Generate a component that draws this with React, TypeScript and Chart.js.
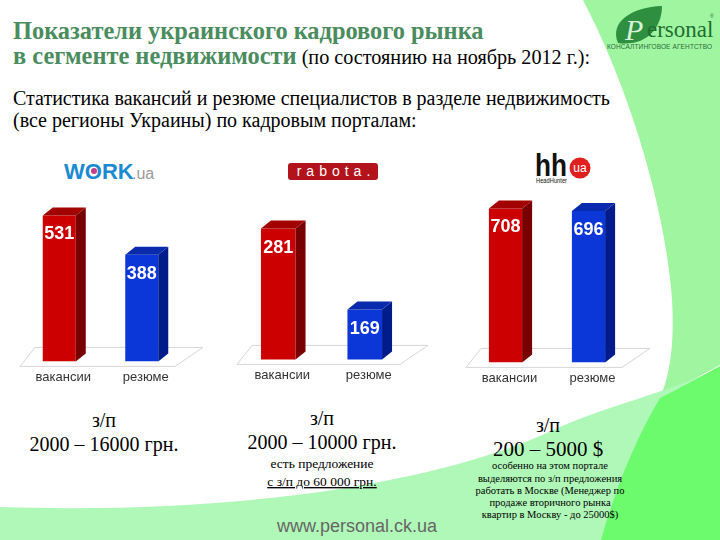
import React, { useEffect, useRef } from 'react';
import { Chart, registerables } from 'chart.js';

Chart.register(...registerables);

// ---- data ----
const categories = ['вакансии', 'резюме'];
const workUaValues = [531, 388];
const rabotaUaValues = [281, 169];
const hhUaValues = [708, 696];

// ---- styles ----
const frontColors = ['#cc0000', '#0c37d8'];
const topColors = ['#a30000', '#0a2aad'];
const sideColors = ['#780000', '#001c8a'];
const SERIF = "'Liberation Serif', 'Times New Roman', serif";
const SANS = "'Liberation Sans', Arial, sans-serif";
const DX = 10;
const DY = 8;

const bar3dPlugin = {
  id: 'bar3d',
  beforeDatasetsDraw(chart: any) {
    const { ctx, chartArea } = chart;
    const L = chartArea.left;
    const R = chartArea.right;
    const b = chartArea.bottom;
    ctx.save();
    ctx.strokeStyle = '#d6d6d6';
    ctx.lineWidth = 1;
    ctx.beginPath();
    ctx.moveTo(L + 2, b + 5);
    ctx.lineTo(R - 8, b + 5);
    ctx.lineTo(R + 20, b - 14);
    ctx.lineTo(L + 17, b - 14);
    ctx.closePath();
    ctx.stroke();
    ctx.restore();
  },
  afterDatasetsDraw(chart: any) {
    const { ctx, chartArea } = chart;
    const meta = chart.getDatasetMeta(0);
    const data = chart.data.datasets[0].data;
    meta.data.forEach((bar: any, i: number) => {
      const props = bar.getProps(['x', 'y', 'base', 'width'], true);
      const x = props.x;
      const y = props.y;
      const width = props.width;
      const base = Math.min(props.base, chartArea.bottom);
      const l = x - width / 2;
      const r = x + width / 2;
      ctx.save();
      ctx.fillStyle = sideColors[i];
      ctx.beginPath();
      ctx.moveTo(r, y);
      ctx.lineTo(r + DX, y - DY);
      ctx.lineTo(r + DX, base - DY);
      ctx.lineTo(r, base);
      ctx.closePath();
      ctx.fill();
      ctx.fillStyle = topColors[i];
      ctx.beginPath();
      ctx.moveTo(l, y);
      ctx.lineTo(l + DX, y - DY);
      ctx.lineTo(r + DX, y - DY);
      ctx.lineTo(r, y);
      ctx.closePath();
      ctx.fill();
      ctx.fillStyle = '#ffffff';
      ctx.font = 'bold 18px ' + SANS;
      ctx.textAlign = 'center';
      ctx.textBaseline = 'middle';
      ctx.fillText(String(data[i]), x, y + 19);
      ctx.restore();
    });
  },
};

const CANVAS_H = 223;

function Bar3DChart(props: { values: number[]; yMin: number; yMax: number; left: number; top: number; width: number }) {
  const { values, yMin, yMax, left, top, width } = props;
  const ref = useRef<HTMLCanvasElement>(null);
  useEffect(() => {
    const chart = new Chart(ref.current as HTMLCanvasElement, {
      type: 'bar',
      data: {
        labels: categories,
        datasets: [
          {
            data: values,
            backgroundColor: frontColors,
            borderWidth: 0,
            barPercentage: 0.4,
            categoryPercentage: 1,
          },
        ],
      },
      options: {
        responsive: false,
        maintainAspectRatio: false,
        animation: false,
        devicePixelRatio: 1,
        layout: { padding: { left: 10, right: 24, top: 10, bottom: 0 } },
        plugins: { legend: { display: false }, tooltip: { enabled: false } },
        scales: {
          x: {
            grid: { display: false, drawTicks: false },
            border: { display: false },
            ticks: {
              font: { family: SANS, size: 13 },
              color: '#333333',
              padding: 8,
              labelOffset: 4,
            },
          },
          y: { display: false, min: yMin, max: yMax },
        },
      } as any,
      plugins: [bar3dPlugin],
    });
    return () => chart.destroy();
  }, []);
  return (
    <canvas
      ref={ref}
      width={width}
      height={CANVAS_H}
      style={{ position: 'absolute', left, top, width, height: CANVAS_H }}
    />
  );
}

const serifStyle = { fontFamily: SERIF };
const sansStyle = { fontFamily: SANS };

export default function App() {
  return (
    <div
      style={{
        position: 'fixed',
        left: 0,
        top: 0,
        width: 720,
        height: 540,
        overflow: 'hidden',
        background: '#ffffff',
      }}
    >
      <svg width={720} height={540} style={{ position: 'absolute', left: 0, top: 0, fontFamily: SERIF }}>
        {/* background shapes */}
        <path d="M583,0 C625,80 665,200 672,300 C675,350 668,380 660,398 L720,365 L720,0 Z" fill="#a0f5a0" />
        <path d="M0,507 C250,515 450,480 560,427 C610,405 660,395 720,368 L720,540 L0,540 Z" fill="#b0f8b8" />
        <path d="M660,398 C690,383 705,374 720,366 L720,540 L601,540 C615,490 635,440 660,398 Z" fill="#6cfb6c" />

        {/* Personal logo */}
        <path d="M618,43 C609,22 632,7 662,6 C662,28 646,47 618,43 Z" fill="#2d8f3f" />
        <text x={625} y={40} style={serifStyle} fontStyle="italic" fontSize={30} fill="#d8f2d8">P</text>
        <text x={647} y={37} style={serifStyle} fontSize={23} fill="#1f6f30">ersonal</text>
        <text x={710} y={18} style={sansStyle} fontSize={5} fill="#1f6f30">®</text>
        <text x={607} y={49} style={sansStyle} fontSize={6.5} fill="#2b6b3b" textLength={105}>КОНСАЛТИНГОВОЕ АГЕНТСТВО</text>

        {/* titles */}
        <text x={13} y={39} style={serifStyle} fontWeight="bold" fontSize={24.4} fill="#4a8c5e">
          Показатели украинского кадрового рынка
        </text>
        <text x={13} y={64} style={{ fontFamily: SERIF, whiteSpace: 'pre' }}>
          <tspan fontWeight="bold" fontSize={24.4} fill="#4a8c5e">в сегменте недвижимости</tspan>
          <tspan fontSize={20.2} fill="#000000">{' (по состоянию на ноябрь 2012 г.):'}</tspan>
        </text>
        <text x={13} y={105} style={serifStyle} fontSize={20} fill="#000000">
          Статистика вакансий и резюме специалистов в разделе недвижимость
        </text>
        <text x={13} y={127} style={serifStyle} fontSize={20} fill="#000000">
          (все регионы Украины) по кадровым порталам:
        </text>

        {/* WORK.ua logo */}
        <text x={64} y={179} style={sansStyle} fontWeight="bold" fontSize={22} fill="#1c8ad0">WORK</text>
        <circle cx={94} cy={171} r={3} fill="#c0408c" />
        <text x={132} y={179} style={sansStyle} fontSize={16} fill="#9a9a9a">.ua</text>

        {/* rabota logo */}
        <rect x={288} y={163} width={90} height={17} rx={3} fill="#b3141c" />
        <text x={336} y={176} style={sansStyle} fontSize={14} fill="#ffffff" textAnchor="middle" letterSpacing={5}>
          rabota.
        </text>

        {/* hh logo */}
        <text x={535} y={176} style={sansStyle} fontWeight="bold" fontSize={31} fill="#111111" textLength={32} lengthAdjust="spacingAndGlyphs">
          hh
        </text>
        <circle cx={580} cy={168} r={10.5} fill="#e0201f" />
        <text x={580} y={172} style={sansStyle} fontSize={12} fill="#ffffff" textAnchor="middle">ua</text>
        <text x={536} y={183} style={sansStyle} fontSize={6.5} fill="#111111" textLength={31} lengthAdjust="spacingAndGlyphs">
          HeadHunter
        </text>

        {/* salary notes */}
        <text x={104} y={427} style={serifStyle} fontSize={20} textAnchor="middle">з/п</text>
        <text x={104} y={451} style={serifStyle} fontSize={20} textAnchor="middle">2000 – 16000 грн.</text>

        <text x={322} y={425} style={serifStyle} fontSize={20} textAnchor="middle">з/п</text>
        <text x={322} y={449} style={serifStyle} fontSize={20} textAnchor="middle">2000 – 10000 грн.</text>
        <text x={322} y={468} style={serifStyle} fontSize={13.5} textAnchor="middle">есть предложение</text>
        <text x={322} y={486} style={serifStyle} fontSize={13.5} textAnchor="middle" textDecoration="underline">
          с з/п до 60 000 грн.
        </text>

        <text x={548} y={432} style={serifStyle} fontSize={20} textAnchor="middle">з/п</text>
        <text x={548} y={456} style={serifStyle} fontSize={21} textAnchor="middle">200 – 5000 $</text>
        <text x={550} y={469} style={serifStyle} fontSize={10.5} textAnchor="middle">особенно на этом портале</text>
        <text x={550} y={482} style={serifStyle} fontSize={10.5} textAnchor="middle">выделяются по з/п предложения</text>
        <text x={550} y={494} style={serifStyle} fontSize={10.5} textAnchor="middle">работать в Москве (Менеджер по</text>
        <text x={550} y={506} style={serifStyle} fontSize={10.5} textAnchor="middle">продаже вторичного рынка</text>
        <text x={550} y={518} style={serifStyle} fontSize={10.5} textAnchor="middle">квартир в Москву - до 25000$)</text>

        <text x={357} y={532} style={sansStyle} fontSize={18} fill="#666666" textAnchor="middle">www.personal.ck.ua</text>
      </svg>

      <Bar3DChart values={workUaValues} yMin={0} yMax={660} left={8} top={170} width={199} />
      <Bar3DChart values={rabotaUaValues} yMin={100} yMax={351} left={225} top={168} width={207} />
      <Bar3DChart values={hhUaValues} yMin={0} yMax={834} left={454} top={171} width={200} />
    </div>
  );
}
